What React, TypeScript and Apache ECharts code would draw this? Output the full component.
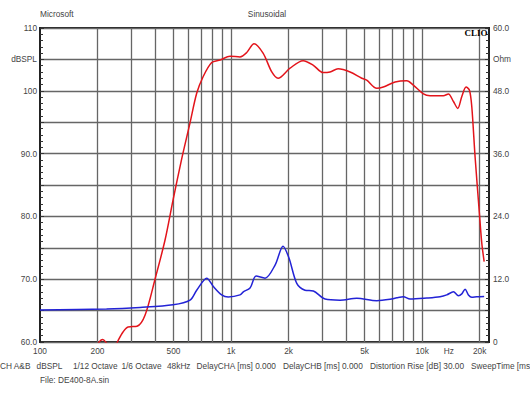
import React, { useEffect, useRef } from "react";
import * as echarts from "echarts";

// SPL response (red, left axis, dBSPL)
const splFreq = [180, 195, 205, 213, 222, 235, 248, 256, 272, 289, 322, 355, 400, 451, 497, 552, 610, 661, 713, 792, 876, 988, 1114, 1208, 1319, 1471, 1634, 1762, 2036, 2383, 2687, 3032, 3299, 3631, 4198, 4832, 5130, 5791, 6266, 7221, 8318, 9000, 10160, 11010, 12920, 13730, 14590, 15380, 16140, 16990, 17700, 18200, 18940, 19950, 20540, 21130];
const splDb = [57.5, 59.0, 60.1, 60.4, 59.9, 58.8, 59.3, 60.2, 61.6, 62.4, 62.5, 64.3, 70.0, 76.2, 82.6, 89.2, 94.9, 99.6, 102.2, 104.5, 104.9, 105.5, 105.4, 106.1, 107.5, 106.0, 103.0, 102.0, 103.6, 104.8, 104.1, 102.9, 103.0, 103.5, 103.0, 102.0, 101.7, 100.4, 100.6, 101.4, 101.6, 100.9, 99.5, 99.2, 99.2, 99.5, 98.3, 97.2, 99.1, 100.6, 100.1, 97.5, 89.5, 80.5, 75.7, 72.8];

// Impedance (blue, right axis, Ohm)
const impFreq = [100, 223, 334, 497, 610, 661, 746, 808, 893, 967, 1114, 1160, 1257, 1352, 1507, 1700, 1872, 2012, 2208, 2438, 2697, 3106, 3720, 4550, 5791, 6795, 7385, 7985, 8650, 10590, 12420, 13460, 14590, 15490, 16140, 16790, 17480, 18200, 19330, 21130];
const impOhm = [6.1, 6.3, 6.6, 7.1, 8.0, 9.9, 12.2, 10.6, 9.0, 8.6, 9.0, 9.6, 10.3, 12.6, 12.2, 14.7, 18.3, 16.0, 11.2, 9.9, 9.75, 8.2, 8.0, 8.35, 7.9, 8.15, 8.45, 8.65, 8.2, 8.4, 8.65, 9.0, 9.6, 8.85, 9.2, 10.1, 9.0, 8.55, 8.65, 8.7];

// Frequency grid lines and labels
const gridFreqs = [100, 200, 300, 400, 500, 600, 700, 800, 900, 1000, 2000, 3000, 4000, 5000, 6000, 7000, 8000, 9000, 10000, 20000];
const freqLabels: Record<number, string> = { 100: "100", 200: "200", 500: "500", 1000: "1k", 2000: "2k", 5000: "5k", 10000: "10k", 20000: "20k" };
const hzLabelFreq = 13800;

// Left (dBSPL) and right (Ohm) tick labels
const dbLabels: Record<number, string> = { 110: "110", 105: "dBSPL", 100: "100", 90: "90.0", 80: "80.0", 70: "70.0", 60: "60.0" };
const ohmLabels: Record<number, string> = { 60: "60.0", 54: "Ohm", 48: "48.0", 36: "36.0", 24: "24.0", 12: "12.0", 0: "0" };

// Header / footer texts
const headerLeft = "Microsoft";
const headerCenter = "Sinusoidal";
const brand = "CLIO";
const infoItems = ["CH A&B", "dBSPL", "1/12 Octave", "1/6 Octave", "48kHz", "DelayCHA [ms] 0.000", "DelayCHB [ms] 0.000", "Distortion Rise [dB] 30.00", "SweepTime [ms]"];
const infoX = [0, 36.6, 72.9, 121.4, 167, 196.6, 283, 370, 471];
const fileLine = "File: DE400-8A.sin";

const FONT = "Liberation Sans, Arial, sans-serif";
const TXT = "#444";
const FS = 8.3;

export default function App() {
  const ref = useRef<HTMLDivElement>(null);
  useEffect(() => {
    if (!ref.current) return;
    const chart = echarts.init(ref.current, undefined, { renderer: "svg" });
    const gridLine = { color: "#666", width: 1.3 };
    const hidden = { color: "rgba(0,0,0,0)", width: 0.1 };
    const markData: any[] = gridFreqs.map((f) => ({
      xAxis: f,
      lineStyle: f === 100 ? hidden : gridLine,
      label: { show: freqLabels[f] != null, formatter: freqLabels[f] || "" },
    }));
    markData.push({ xAxis: hzLabelFreq, lineStyle: hidden, label: { show: true, formatter: "Hz" } });

    const option: any = {
      animation: false,
      grid: { left: 40, right: 41, top: 28, bottom: 56, show: true, borderColor: "#222", borderWidth: 2, backgroundColor: "transparent" },
      xAxis: {
        type: "log",
        logBase: 10,
        min: 100,
        max: 22400,
        axisLine: { show: false },
        axisTick: { show: false },
        axisLabel: { show: false },
        splitLine: { show: false },
      },
      yAxis: [
        {
          type: "value",
          min: 60,
          max: 110,
          interval: 5,
          position: "left",
          axisLine: { show: true, lineStyle: { color: "#222", width: 2 } },
          axisTick: { show: true, inside: true, length: 4, lineStyle: { color: "#333" } },
          minorTick: { show: true, splitNumber: 5, length: 3, lineStyle: { color: "#333" } },
          axisLabel: { margin: 3, color: TXT, fontSize: FS, fontFamily: FONT, formatter: (v: number) => dbLabels[v] ?? "" },
          splitLine: { show: true, lineStyle: gridLine },
        },
        {
          type: "value",
          min: 0,
          max: 60,
          interval: 6,
          position: "right",
          axisLine: { show: true, lineStyle: { color: "#222", width: 2 } },
          axisTick: { show: true, inside: true, length: 4, lineStyle: { color: "#333" } },
          minorTick: { show: true, splitNumber: 5, length: 3, lineStyle: { color: "#333" } },
          axisLabel: { margin: 4, color: TXT, fontSize: FS, fontFamily: FONT, formatter: (v: number) => ohmLabels[v] ?? "" },
          splitLine: { show: false },
        },
      ],
      series: [
        {
          type: "line",
          yAxisIndex: 0,
          data: splFreq.map((f, i) => [f, splDb[i]]),
          showSymbol: false,
          smooth: 0.3,
          clip: true,
          z: 3,
          lineStyle: { color: "#e3141b", width: 1.5 },
          markLine: {
            silent: true,
            symbol: ["none", "none"],
            animation: false,
            z: 1,
            lineStyle: { type: "solid" },
            label: { position: "start", distance: 5, color: TXT, fontSize: FS, fontFamily: FONT },
            emphasis: { disabled: true },
            data: markData,
          },
        },
        {
          type: "line",
          yAxisIndex: 1,
          data: impFreq.map((f, i) => [f, impOhm[i]]),
          showSymbol: false,
          smooth: 0.3,
          z: 3,
          lineStyle: { color: "#2323d6", width: 1.5 },
        },
      ],
      graphic: [
        { type: "text", x: 40, y: 14, style: { text: headerLeft, fill: TXT, font: `${FS}px ${FONT}`, verticalAlign: "middle" } },
        { type: "text", x: 267, y: 14, style: { text: headerCenter, fill: TXT, font: `${FS}px ${FONT}`, align: "center", verticalAlign: "middle" } },
        { type: "text", x: 487.5, y: 33, z: 100, zlevel: 1, style: { text: brand, fill: "#000", font: `bold 9px Liberation Serif, serif`, align: "right", verticalAlign: "middle" } },
        ...infoItems.map((t, i) => ({ type: "text", x: infoX[i], y: 365.6, style: { text: t, fill: TXT, font: `${FS}px ${FONT}`, verticalAlign: "middle" } })),
        { type: "text", x: 40, y: 380, style: { text: fileLine, fill: TXT, font: `${FS}px ${FONT}`, verticalAlign: "middle" } },
      ],
    };
    chart.setOption(option);
    return () => chart.dispose();
  }, []);
  return <div ref={ref} style={{ width: 530, height: 398, position: "absolute", left: 0, top: 0 }} />;
}
